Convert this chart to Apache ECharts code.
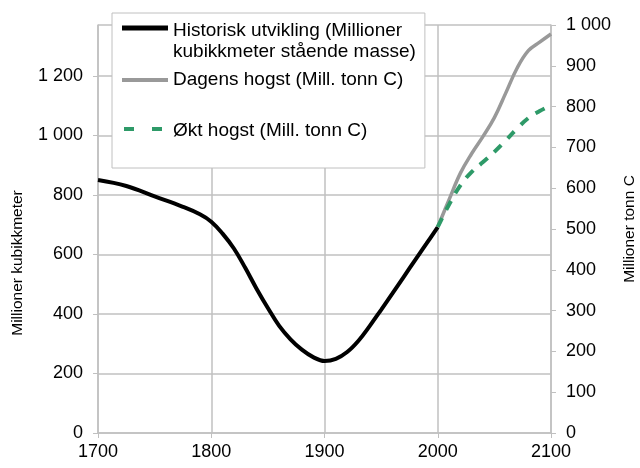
<!DOCTYPE html>
<html>
<head>
<meta charset="utf-8">
<script src="https://cdn.jsdelivr.net/npm/echarts@6/dist/echarts.min.js"></script>
<style>html,body{margin:0;padding:0;background:#fff;}#chart{width:640px;height:468px;}</style>
</head>
<body>
<div id="chart"></div>
<script>
// Historical standing volume (million m3), left axis
const histYears  = [1700, 1725, 1750, 1775, 1790, 1800, 1810, 1820, 1830, 1840, 1850, 1860, 1870, 1880, 1890, 1900, 1910, 1920, 1930, 1940, 1950, 1960, 1970, 1980, 1990, 2000];
const histValues = [850, 830, 795, 760, 735, 710, 670, 620, 555, 485, 420, 360, 315, 280, 255, 242, 249, 272, 310, 360, 414, 469, 525, 581, 636, 692];
// Projections (million tonnes C), right axis
const projYears    = [2000, 2010, 2020, 2030, 2040, 2050, 2060, 2070, 2080, 2090, 2100];
const dagensValues = [505, 572, 637, 685, 727, 773, 833, 894, 937, 958, 978];
const oktValues    = [505, 560, 607, 640, 664, 689, 717, 746, 772, 789, 803];
// Names and ticks
const seriesNames = ['Historisk utvikling (Millioner\nkubikkmeter stående masse)', 'Dagens hogst (Mill. tonn C)', 'Økt hogst (Mill. tonn C)'];
const leftAxisName = 'Millioner kubikkmeter';
const rightAxisName = 'Millioner tonn C';

const pairs = (xs, ys) => xs.map((x, i) => [x, ys[i]]);
const fmt = v => String(v).replace(/\B(?=(\d{3})+(?!\d))/g, '\u00a0');
const FONT = 'Liberation Sans, Arial, sans-serif';
const GRID = '#c0c0c0';

const chart = echarts.init(document.getElementById('chart'), null, {renderer: 'canvas'});
const legendText = {fontFamily: FONT, fontSize: 19, color: '#000', lineHeight: 21};
chart.setOption({
  animation: false,
  backgroundColor: '#fff',
  grid: {left: 98, right: 89, top: 25, bottom: 35, containLabel: false, outerBoundsMode: 'none'},
  legend: [
    {
      left: 112, top: 13, orient: 'vertical',
      padding: [7, 9, 106, 10],
      backgroundColor: '#fff', borderColor: GRID, borderWidth: 1,
      itemWidth: 46, itemHeight: 42, selectedMode: false,
      textStyle: legendText,
      data: [{name: seriesNames[0],
        icon: 'path://M0,0h0.01v0.01h-0.01z M0,5.5h46v5h-46z M45.99,41.99h0.01v0.01h-0.01z',
        itemStyle: {color: '#000', borderWidth: 0}}]
    },
    {
      left: 122, top: 69.5, orient: 'vertical', padding: 0, z: 6,
      itemWidth: 46, itemHeight: 4, selectedMode: false,
      textStyle: legendText,
      data: [{name: seriesNames[1], icon: 'path://M0,0h46v4h-46z',
        itemStyle: {color: '#999999', borderWidth: 0}}]
    },
    {
      left: 122, top: 120.5, orient: 'vertical', padding: 0, z: 6,
      itemWidth: 46, itemHeight: 8, selectedMode: false,
      textStyle: legendText,
      data: [{name: seriesNames[2],
        icon: 'path://M0,0h0.01v0.01h-0.01z M2,0h10v4h-10z M30,0h10v4h-10z M45.99,7.99h0.01v0.01h-0.01z',
        itemStyle: {color: '#2e9a68', borderWidth: 0}}]
    }
  ],
  xAxis: {
    type: 'value', min: 1700, max: 2100, interval: 100,
    axisLine: {show: true, onZero: false, lineStyle: {color: GRID, width: 1.5}},
    axisTick: {show: true, length: 5, lineStyle: {color: GRID}},
    splitLine: {show: true, lineStyle: {color: GRID, width: 1.5}},
    axisLabel: {fontFamily: FONT, fontSize: 18, color: '#000', margin: 10, formatter: v => String(v)}
  },
  yAxis: [
    {
      type: 'value', min: 0, max: 1371, interval: 200, position: 'left',
      name: leftAxisName, nameLocation: 'middle', nameRotate: 90, nameGap: 72,
      nameTextStyle: {fontFamily: FONT, fontSize: 15.5, color: '#000', padding: [0, 68, 0, 0]},
      axisLine: {show: true, lineStyle: {color: GRID, width: 1.5}},
      axisTick: {show: true, length: 5, lineStyle: {color: GRID}},
      splitLine: {show: true, lineStyle: {color: GRID, width: 1.5}},
      axisLabel: {fontFamily: FONT, fontSize: 18, color: '#000', margin: 15, showMaxLabel: false, formatter: fmt}
    },
    {
      type: 'value', min: 0, max: 1000, interval: 100, position: 'right',
      name: rightAxisName, nameLocation: 'middle', nameRotate: 90, nameGap: 71,
      nameTextStyle: {fontFamily: FONT, fontSize: 15.5, color: '#000'},
      axisLine: {show: true, lineStyle: {color: GRID, width: 1.5}},
      axisTick: {show: true, length: 5, lineStyle: {color: GRID}},
      splitLine: {show: false},
      axisLabel: {fontFamily: FONT, fontSize: 18, color: '#000', margin: 15, formatter: fmt}
    }
  ],
  series: [
    {
      name: seriesNames[0], type: 'line', yAxisIndex: 0, data: pairs(histYears, histValues),
      showSymbol: false, smooth: 0.4, color: '#000',
      lineStyle: {color: '#000', width: 4}, z: 3
    },
    {
      name: seriesNames[1], type: 'line', yAxisIndex: 1, data: pairs(projYears, dagensValues),
      showSymbol: false, smooth: 0.4, color: '#999999',
      lineStyle: {color: '#999999', width: 3.5}, z: 3
    },
    {
      name: seriesNames[2], type: 'line', yAxisIndex: 1, data: pairs(projYears, oktValues),
      showSymbol: false, smooth: 0.4, color: '#2e9a68',
      lineStyle: {color: '#2e9a68', width: 4, type: [10, 9]}, z: 4
    }
  ]
});
</script>
</body>
</html>
